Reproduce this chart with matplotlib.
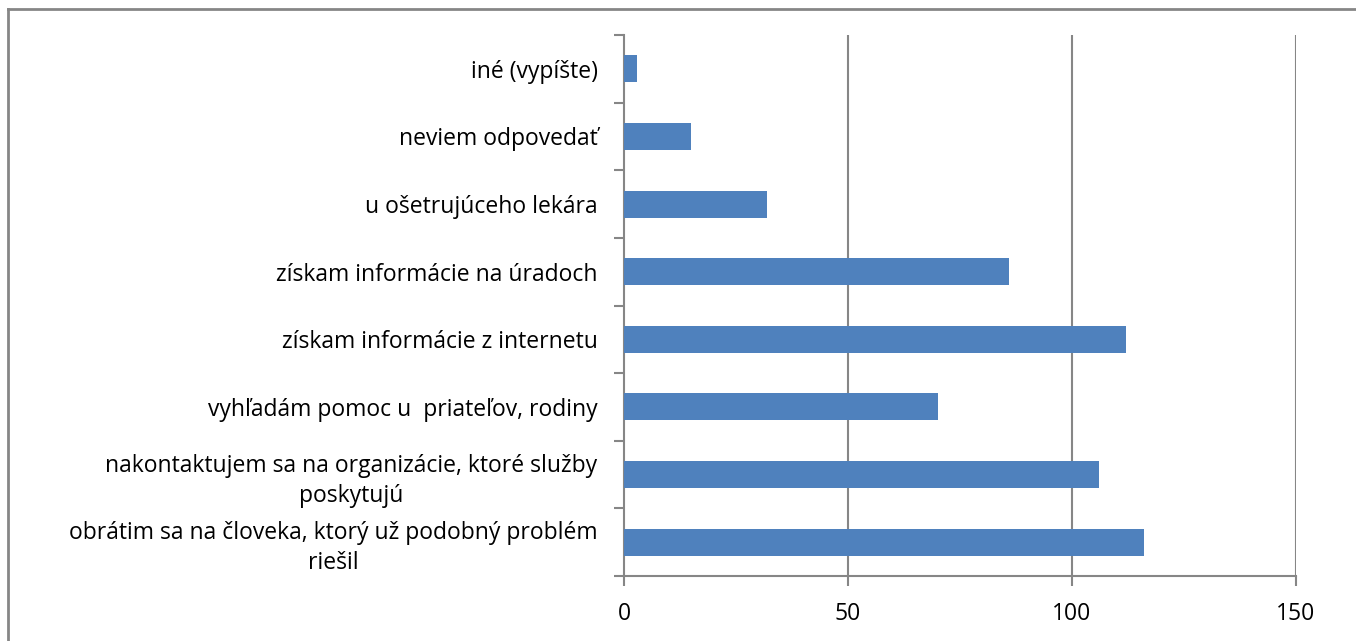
import matplotlib
matplotlib.use("Agg")
import matplotlib.pyplot as plt
from matplotlib.lines import Line2D

categories = [
    "obrátim sa na človeka, ktorý už podobný problém\nriešil",
    "nakontaktujem sa na organizácie, ktoré služby\nposkytujú",
    "vyhľadám pomoc u  priateľov, rodiny",
    "získam informácie z internetu",
    "získam informácie na úradoch",
    "u ošetrujúceho lekára",
    "neviem odpovedať",
    "iné (vypíšte)",
]
values = [116, 106, 70, 112, 86, 32, 15, 3]
xticks = [0, 50, 100, 150]

W, H = 1356, 641
plt.rcParams['font.family'] = ['Open Sans', 'DejaVu Sans']
fig = plt.figure(figsize=(W / 100, H / 100), dpi=100)
ax = fig.add_axes([624 / W, (H - 576) / H, (1296 - 624) / W, (576 - 35) / H])

gray = "#868686"
pos = list(range(len(categories)))
ax.barh(pos, values, height=0.4, color="#4F81BD", zorder=3)
ax.set_xlim(0, 150)
ax.set_ylim(-0.5, len(categories) - 0.5)
ax.set_xticks(xticks)
ax.set_xticklabels([str(t) for t in xticks])
for t in xticks[1:]:
    ax.axvline(t, color=gray, lw=1.5, zorder=1)

ax.set_yticks(pos)
ax.set_yticklabels(categories, multialignment="center", linespacing=1.35)
ax.set_yticks([p - 0.5 for p in pos] + [len(pos) - 0.5], minor=True)
ax.tick_params(axis="y", which="major", length=0, pad=19, labelsize=16.5, labelcolor="#000000")
ax.tick_params(axis="y", which="minor", length=7, width=1.5, color=gray, direction="out")
ax.tick_params(axis="x", length=7, width=1.5, color=gray, direction="out", pad=12, labelsize=16.5)
for s in ["top", "right"]:
    ax.spines[s].set_visible(False)
for s in ["left", "bottom"]:
    ax.spines[s].set_color(gray)
    ax.spines[s].set_linewidth(1.5)

# outer chart border (only top and left visible within the crop)
x0 = 7.5 / W
y0 = 1 - 8.5 / H
fig.add_artist(Line2D([x0, 1.0], [y0, y0], transform=fig.transFigure, color=gray, lw=2))
fig.add_artist(Line2D([x0, x0], [0.0, y0], transform=fig.transFigure, color=gray, lw=2))

fig.savefig("out.png", dpi=100)
